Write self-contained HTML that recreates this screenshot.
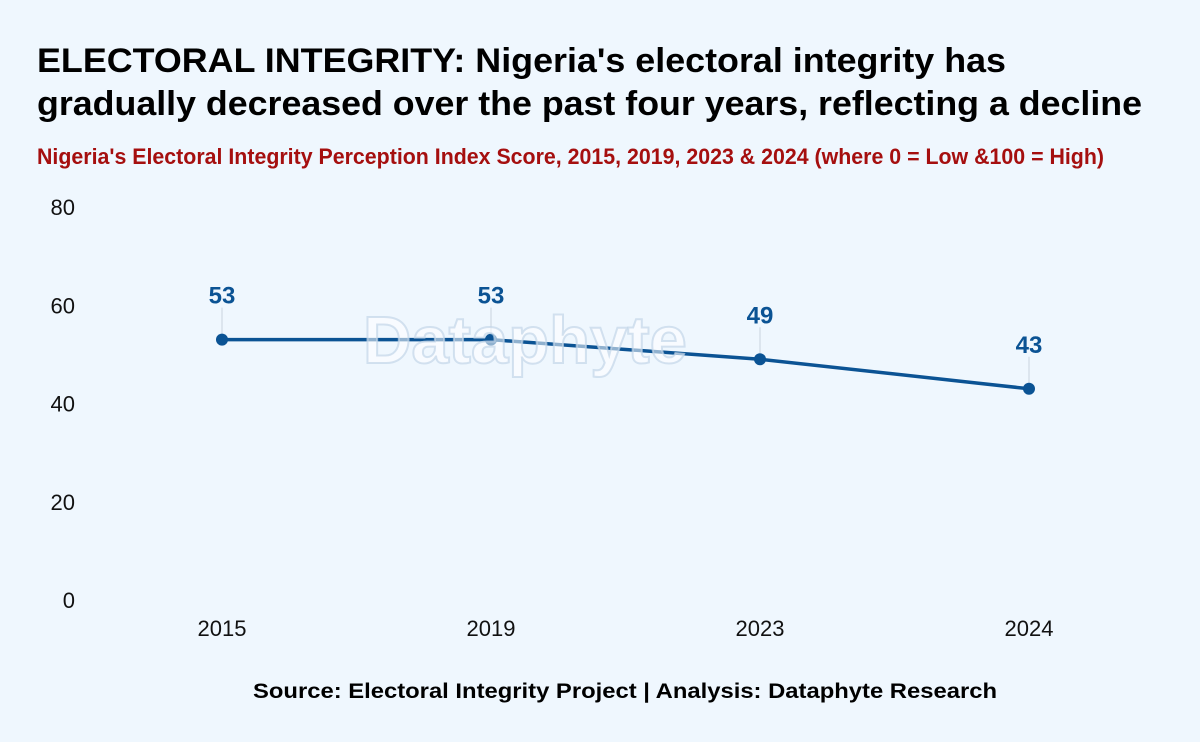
<!DOCTYPE html>
<html><head><meta charset="utf-8"><style>
html,body{margin:0;padding:0;background:#eff7fe;}
body{width:1200px;height:742px;overflow:hidden;font-family:"Liberation Sans",Arial,sans-serif;}
</style></head><body>
<svg width="1200" height="742" viewBox="0 0 1200 742" style="display:block">
<rect width="1200" height="742" fill="#eff7fe"/>
<text x="37" y="72" font-size="34" font-weight="bold" fill="#000" textLength="969" lengthAdjust="spacingAndGlyphs">ELECTORAL INTEGRITY: Nigeria's electoral integrity has</text>
<text x="37" y="115" font-size="34" font-weight="bold" fill="#000" textLength="1105" lengthAdjust="spacingAndGlyphs">gradually decreased over the past four years, reflecting a decline</text>
<text x="37" y="164" font-size="22" font-weight="bold" fill="#a50f0f" textLength="1067" lengthAdjust="spacingAndGlyphs">Nigeria's Electoral Integrity Perception Index Score, 2015, 2019, 2023 &amp; 2024 (where 0 = Low &amp;100 = High)</text>
<g id="yaxis"></g>
<g id="xaxis"></g>
<g id="series"></g>
<text x="525" y="363" text-anchor="middle" font-size="67" font-weight="bold" fill="#ffffff" fill-opacity="0.55" stroke="#c3d5e8" stroke-opacity="0.7" stroke-width="2">Dataphyte</text>
<text x="625" y="698" text-anchor="middle" font-size="21" font-weight="bold" fill="#000" textLength="744" lengthAdjust="spacingAndGlyphs">Source: Electoral Integrity Project | Analysis: Dataphyte Research</text>
</svg>
<script>
const categories = ["2015","2019","2023","2024"];
const values = [53,53,49,43];
const yTicks = [0,20,40,60,80];
const NS="http://www.w3.org/2000/svg";
const y0=600, yTop=207, yMax=80;
function yScale(v){return y0-(v/yMax)*(y0-yTop);}
function xScale(i){return 222+i*269;}
function mk(tag,attrs,parent){const e=document.createElementNS(NS,tag);for(const k in attrs)e.setAttribute(k,attrs[k]);parent.appendChild(e);return e;}
const ya=document.getElementById('yaxis'),xa=document.getElementById('xaxis'),se=document.getElementById('series');
yTicks.forEach(t=>{
  const e=mk('text',{x:75,y:yScale(t)+8,'text-anchor':'end','font-size':22,fill:'#111'},ya);
  
  
  e.textContent=t;
});
categories.forEach((c,i)=>{
  const e=mk('text',{x:xScale(i),y:636,'text-anchor':'middle','font-size':22,fill:'#111'},xa);
  
  
  e.textContent=c;
});
const pts=values.map((v,i)=>xScale(i)+','+yScale(v)).join(' ');
const pl=mk('polyline',{points:pts,fill:'none',stroke:'#0b5394','stroke-width':3.5,'stroke-linejoin':'round'},se);


values.forEach((v,i)=>{
  const x=xScale(i),y=yScale(v);
  const l=mk('line',{x1:x,y1:y-32,x2:x,y2:y-6,stroke:'#c8d3de','stroke-width':1},se);
  
  
  const c=mk('circle',{cx:x,cy:y,r:6,fill:'#0b5394'},se);
  
  
  const t=mk('text',{x:x,y:y-36,'text-anchor':'middle','font-size':24,'font-weight':'bold',fill:'#0b5394'},se);
  
  
  t.textContent=v;
});
</script>
</body></html>
